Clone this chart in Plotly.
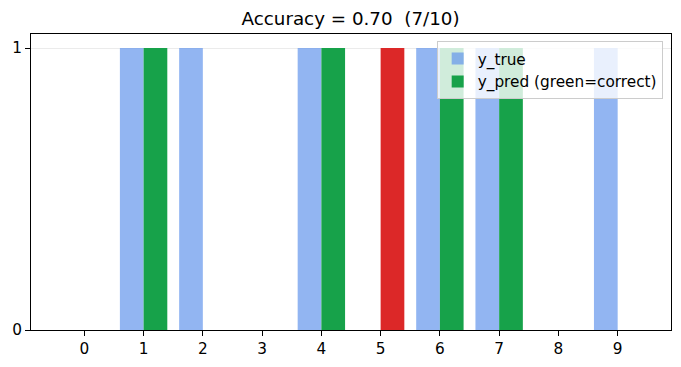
import plotly.graph_objects as go

indices = list(range(10))
y_true = [0, 1, 1, 0, 1, 0, 1, 1, 0, 1]
y_pred = [0, 1, 0, 0, 1, 1, 1, 1, 0, 0]
tick_labels = [str(i) for i in indices]

correct = sum(1 for a, b in zip(y_true, y_pred) if a == b)
acc = correct / len(y_true)
GREEN = "#17a24a"
RED = "#dc2828"
BLUE = "rgba(100,149,237,0.7)"
pred_colors = [GREEN if a == b else RED for a, b in zip(y_true, y_pred)]

fig = go.Figure()
fig.add_trace(go.Bar(x=indices, y=y_true, width=0.4, offset=-0.4,
                     marker=dict(color=BLUE, line=dict(width=0)), name="y_true"))
fig.add_trace(go.Bar(x=indices, y=y_pred, width=0.4, offset=0,
                     marker=dict(color=pred_colors, line=dict(width=0)),
                     name="y_pred (green=correct)"))

font = "DejaVu Sans"
fig.update_layout(
    width=681, height=367,
    margin=dict(l=23, r=18, t=26, b=45, autoexpand=False),
    paper_bgcolor="white", plot_bgcolor="white",
    barmode="overlay",
    font=dict(family=font, size=15.3, color="black"),
    title=dict(text=f"Accuracy = {acc:.2f}&nbsp; ({correct}/{len(y_true)})",
               x=0.503, xanchor="center", y=0.970, yanchor="middle",
               font=dict(size=18.3, family=font)),
    legend=dict(x=0.987, xanchor="right", y=0.976, yanchor="top",
                bgcolor="rgba(255,255,255,0.8)", bordercolor="#cccccc", borderwidth=1,
                font=dict(size=15.3, family=font), tracegroupgap=0, itemwidth=30),
    xaxis=dict(range=[-0.9, 9.9], tickvals=indices, ticktext=tick_labels,
               showgrid=False, zeroline=False, showline=True, linecolor="black",
               linewidth=1, mirror=True, ticks="outside", ticklen=5, tickcolor="black",
               automargin=False),
    yaxis=dict(range=[0, 1.05], tickvals=[0, 1], ticktext=["0", "1"],
               showgrid=True, gridcolor="#ebebeb", gridwidth=1, zeroline=False,
               showline=True, linecolor="black", linewidth=1, mirror=True,
               ticks="outside", ticklen=5, tickcolor="black", automargin=False),
)
fig.write_html("out.html")
